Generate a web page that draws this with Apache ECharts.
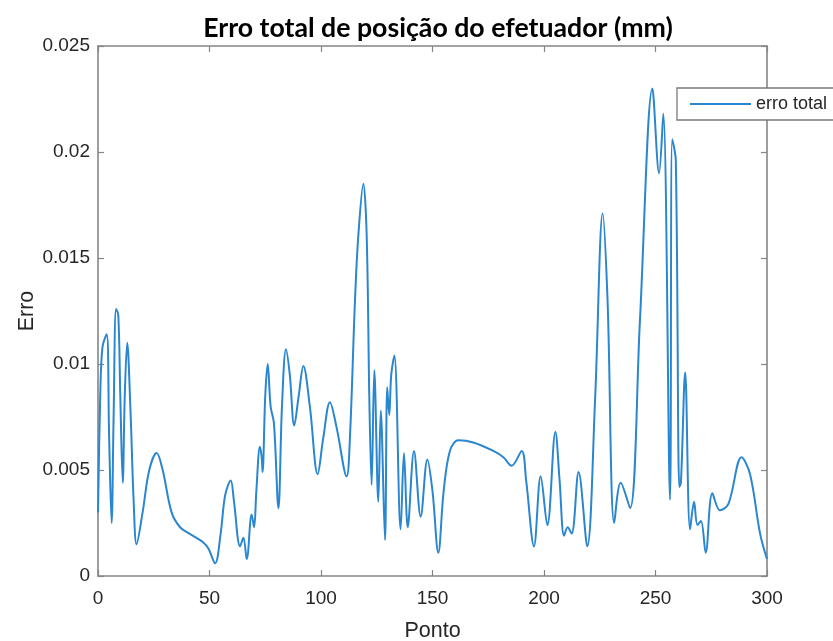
<!DOCTYPE html>
<html>
<head>
<meta charset="utf-8">
<title>Erro total de posição do efetuador</title>
<script src="https://cdn.jsdelivr.net/npm/echarts@6/dist/echarts.min.js"></script>
<style>
  html, body { margin: 0; padding: 0; background: #ffffff; }
  #chart { width: 833px; height: 641px; }
</style>
</head>
<body>
<div id="chart"></div>
<script>
// Sample positions along the trajectory
const pointX = [
  0, 1, 2, 3.9, 5, 6.1, 7, 8.1, 9.1, 10, 11.1, 12, 13.1, 14.5, 16, 17.3, 20, 23, 26.3, 29,
  33, 36.8, 41, 44.2, 47, 49.5, 52.5, 55, 57, 59.5, 61, 63.7, 65.2, 66.7, 68.9, 70, 71, 72.6, 73.4, 73.8,
  75, 76.1, 77.4, 78.9, 80.9, 82.5, 84.3, 86, 88, 90, 92.1, 95, 98.5, 101, 104, 107, 111.5, 113, 115.2, 116.7,
  119, 120.5, 121.7, 122.7, 123.9, 125.7, 126.8, 128.7, 129.7, 130.6, 131.5, 132.9, 135.7, 137.2, 138.9, 141.7, 144.7, 147.7, 150, 152.6,
  155, 157.8, 161.6, 168.3, 177.3, 181.8, 185.5, 190, 192, 195.5, 198.5, 201.5, 205.1, 207, 209, 210.6, 212.4, 215.5, 219.4, 222.9,
  226.3, 228.5, 231.5, 234.4, 238.6, 243, 248.6, 251.6, 253.5, 256.5, 257.5, 259.1, 260.7, 261.4, 263.3, 265.5, 267.3, 268.8, 270.4, 272.5,
  275.5, 278.9, 282.7, 288.6, 292.4, 296.9, 300
];

// Total end-effector position error at each sample
const errorTotal = [
  0.0030, 0.0085, 0.0108, 0.0114, 0.0065, 0.0025, 0.0075, 0.0126, 0.0123, 0.0085, 0.0044, 0.0085, 0.0110, 0.0080, 0.0035, 0.0015, 0.0030, 0.0050, 0.0058, 0.0050,
  0.0030, 0.0023, 0.0020, 0.0018, 0.0016, 0.0013, 0.0006, 0.0020, 0.0038, 0.0045, 0.0035, 0.0014, 0.0018, 0.0008, 0.0029, 0.0023, 0.0040, 0.0061, 0.0056, 0.0049,
  0.0085, 0.0100, 0.0080, 0.0072, 0.0032, 0.0080, 0.0107, 0.0095, 0.0071, 0.0085, 0.0099, 0.0080, 0.0048, 0.0065, 0.0082, 0.0070, 0.0047, 0.0066, 0.0129, 0.0160,
  0.0185, 0.0160, 0.0082, 0.0043, 0.0097, 0.0035, 0.0078, 0.0017, 0.0089, 0.0076, 0.0095, 0.0104, 0.0022, 0.0058, 0.0023, 0.0059, 0.0028, 0.0055, 0.0040, 0.0011,
  0.0040, 0.0059, 0.0064, 0.0063, 0.0059, 0.0056, 0.0052, 0.0059, 0.0045, 0.0014, 0.0047, 0.0024, 0.0068, 0.0045, 0.0019, 0.0023, 0.0020, 0.0049, 0.0014, 0.0083,
  0.0171, 0.0130, 0.0025, 0.0044, 0.0032, 0.0120, 0.0230, 0.0190, 0.0218, 0.0036, 0.0206, 0.0196, 0.0042, 0.0044, 0.0096, 0.0022, 0.0035, 0.0024, 0.0026, 0.0011,
  0.0039, 0.0031, 0.0034, 0.0056, 0.0048, 0.0020, 0.0008
];

const xTicks = [0, 50, 100, 150, 200, 250, 300];
const yTicks = [0, 0.005, 0.01, 0.015, 0.02, 0.025];

const seriesData = pointX.map((x, i) => [x, errorTotal[i]]);

const boxColor = '#858585';
const textColor = '#262626';
const font = 'Liberation Sans, Arial, sans-serif';

const chart = echarts.init(document.getElementById('chart'), null, { renderer: 'canvas' });

const yLabel = v => {
  const i = yTicks.findIndex(t => Math.abs(t - v) < 1e-9);
  return i >= 0 ? String(yTicks[i]) : '';
};
const xLabel = v => {
  const i = xTicks.indexOf(v);
  return i >= 0 ? String(xTicks[i]) : '';
};

// shared style for the box axes: inward ticks, gray line
const boxAxis = {
  axisLine: { show: true, onZero: false, lineStyle: { color: boxColor, width: 1.6 } },
  axisTick: { show: true, inside: true, length: 6, lineStyle: { color: boxColor, width: 1.2 } },
  splitLine: { show: false }
};

chart.setOption({
  animation: false,
  backgroundColor: '#ffffff',
  title: {
    text: 'Erro total de posição do efetuador (mm)',
    left: 433,
    textAlign: 'center',
    top: 10,
    textStyle: {
      fontFamily: 'Lato, Open Sans, sans-serif',
      fontWeight: 'bold',
      fontSize: 26.7,
      color: '#000000'
    }
  },
  legend: {
    data: ['erro total'],
    left: 677,
    top: 88,
    orient: 'vertical',
    icon: 'rect',
    backgroundColor: '#ffffff',
    borderColor: '#7a7a7a',
    borderWidth: 1.3,
    borderRadius: 0,
    padding: [7, 40, 7, 13],
    itemWidth: 61,
    itemHeight: 2,
    textStyle: { fontFamily: font, fontSize: 18, color: textColor }
  },
  grid: {
    left: 98, right: 66, top: 46, bottom: 65,
    containLabel: false,
    outerBoundsMode: 'none'
  },
  xAxis: [
    Object.assign({}, boxAxis, {
      type: 'value',
      min: 0, max: 300, interval: 50,
      position: 'bottom',
      name: 'Ponto',
      nameLocation: 'middle',
      nameGap: 44,
      nameMoveOverlap: false,
      nameTextStyle: { fontFamily: font, fontSize: 21.5, color: textColor },
      axisLabel: { fontFamily: font, fontSize: 19, color: textColor, margin: 13, formatter: xLabel }
    }),
    Object.assign({}, boxAxis, {
      type: 'value',
      min: 0, max: 300, interval: 50,
      position: 'top',
      axisLabel: { show: false }
    })
  ],
  yAxis: [
    Object.assign({}, boxAxis, {
      type: 'value',
      min: 0, max: 0.025, interval: 0.005,
      position: 'left',
      name: 'Erro',
      nameLocation: 'middle',
      nameGap: 60,
      nameMoveOverlap: false,
      nameTextStyle: { fontFamily: font, fontSize: 21.5, color: textColor },
      axisLabel: { fontFamily: font, fontSize: 19, color: textColor, margin: 8, formatter: yLabel }
    }),
    Object.assign({}, boxAxis, {
      type: 'value',
      min: 0, max: 0.025, interval: 0.005,
      position: 'right',
      axisLabel: { show: false }
    })
  ],
  series: [
    {
      name: 'erro total',
      type: 'line',
      xAxisIndex: 0,
      yAxisIndex: 0,
      data: seriesData,
      smooth: 0.35,
      symbol: 'none',
      lineStyle: { color: '#2a86cf', width: 2 },
      itemStyle: { color: '#2a86cf' },
      z: 3
    },
    {
      // empty series so the top and right frame axes are laid out
      name: 'frame',
      type: 'line',
      xAxisIndex: 1,
      yAxisIndex: 1,
      data: [],
      symbol: 'none'
    }
  ]
});
</script>
</body>
</html>
